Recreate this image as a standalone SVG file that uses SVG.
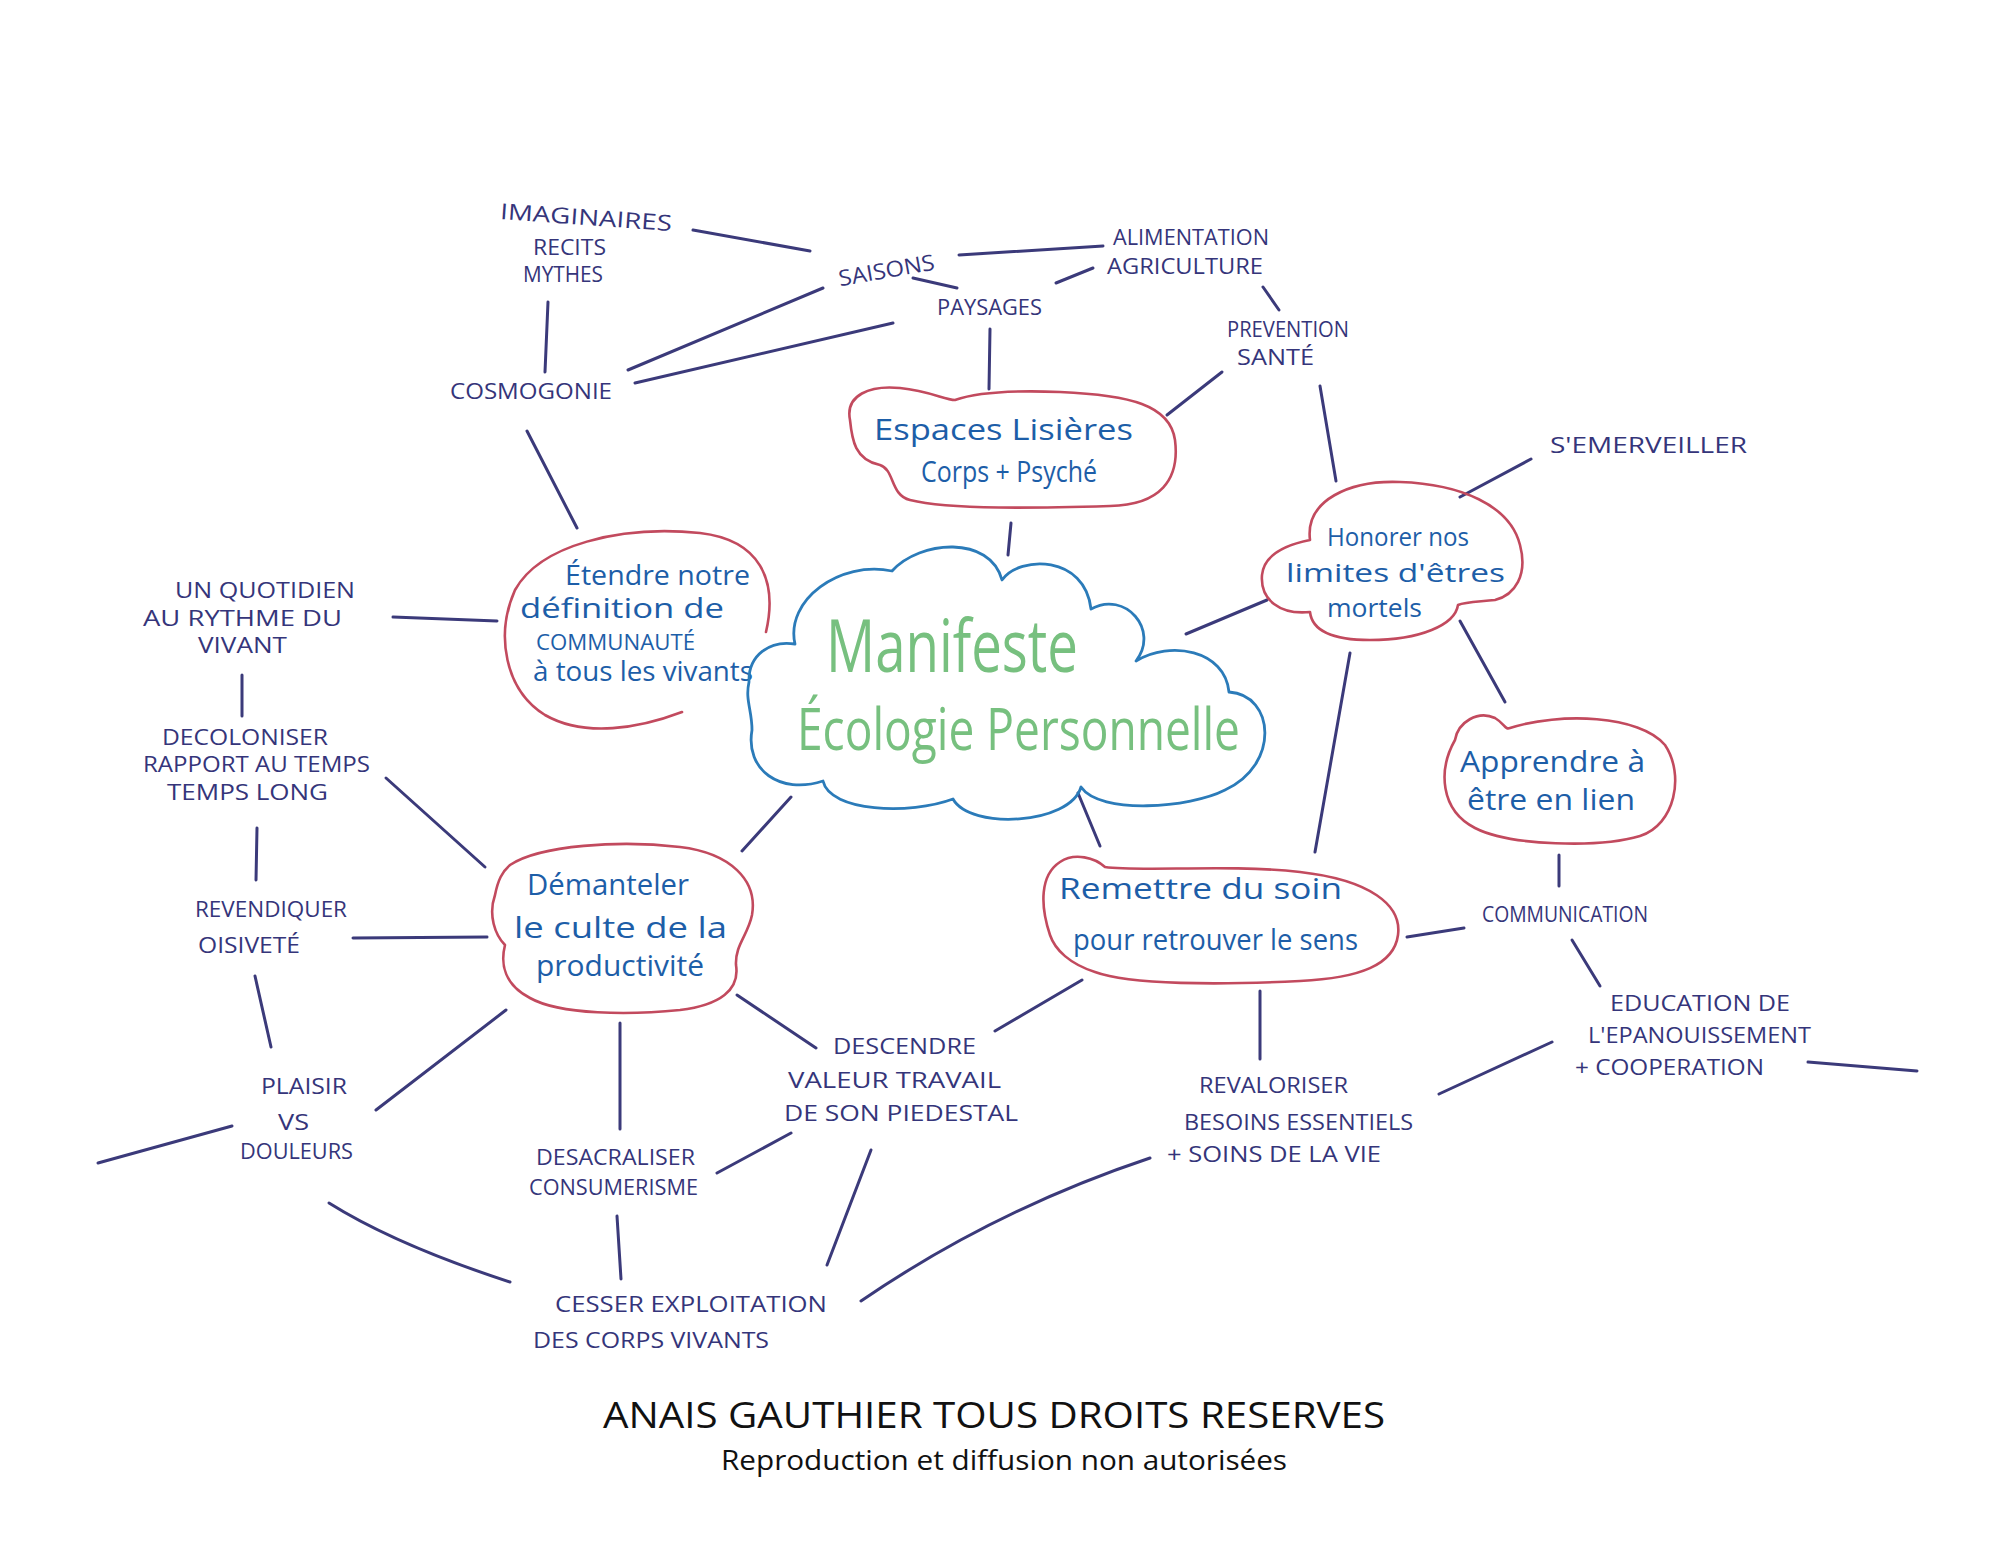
<svg xmlns="http://www.w3.org/2000/svg" width="2000" height="1545" viewBox="0 0 2000 1545">
<style>
.lbl{font-family:"Open Sans","Liberation Sans",sans-serif;font-size:22px;fill:#35357a}
.bt{font-family:"Open Sans","Liberation Sans",sans-serif;font-size:29px;fill:#1d5ea8}
.bub{fill:none;stroke:#c24a5e;stroke-width:2.6;stroke-linejoin:round;stroke-linecap:round}
.cloud{fill:none;stroke:#2b7bb9;stroke-width:2.8;stroke-linejoin:round;stroke-linecap:round}
.ct{font-family:"Open Sans","Liberation Sans",sans-serif;fill:#77c07f}
#connectors line,#connectors path{stroke:#3b3a7a;stroke-width:3;stroke-linecap:round;fill:none}
.foot{font-family:"Open Sans","Liberation Sans",sans-serif;fill:#111}
</style>
<rect width="2000" height="1545" fill="#ffffff"/>
<g id="connectors">
<line x1="693" y1="230" x2="810" y2="251"/>
<line x1="548" y1="302" x2="545" y2="372"/>
<line x1="959" y1="255" x2="1103" y2="246"/>
<line x1="913" y1="278" x2="957" y2="288"/>
<line x1="1056" y1="283" x2="1093" y2="268"/>
<line x1="823" y1="288" x2="628" y2="370"/>
<line x1="893" y1="323" x2="635" y2="383"/>
<line x1="990" y1="329" x2="989" y2="389"/>
<line x1="1263" y1="287" x2="1279" y2="310"/>
<line x1="1222" y1="372" x2="1167" y2="415"/>
<line x1="1320" y1="386" x2="1336" y2="481"/>
<line x1="1531" y1="459" x2="1460" y2="497"/>
<line x1="527" y1="431" x2="577" y2="528"/>
<line x1="1011" y1="523" x2="1008" y2="555"/>
<line x1="1267" y1="600" x2="1186" y2="634"/>
<line x1="1460" y1="621" x2="1505" y2="702"/>
<line x1="1350" y1="653" x2="1315" y2="852"/>
<line x1="393" y1="617" x2="497" y2="621"/>
<line x1="242" y1="675" x2="242" y2="716"/>
<line x1="257" y1="828" x2="256" y2="880"/>
<line x1="386" y1="778" x2="485" y2="867"/>
<line x1="353" y1="938" x2="487" y2="937"/>
<line x1="255" y1="976" x2="271" y2="1047"/>
<line x1="376" y1="1110" x2="506" y2="1010"/>
<line x1="232" y1="1126" x2="98" y2="1163"/>
<line x1="620" y1="1023" x2="620" y2="1129"/>
<line x1="737" y1="995" x2="816" y2="1048"/>
<line x1="791" y1="797" x2="742" y2="851"/>
<line x1="1078" y1="793" x2="1100" y2="846"/>
<line x1="995" y1="1031" x2="1082" y2="980"/>
<line x1="717" y1="1173" x2="791" y2="1133"/>
<line x1="617" y1="1216" x2="621" y2="1279"/>
<line x1="871" y1="1150" x2="827" y2="1265"/>
<path d="M329,1203 Q396,1245 510,1282"/>
<path d="M861,1301 Q994,1210 1150,1158"/>
<line x1="1260" y1="991" x2="1260" y2="1059"/>
<line x1="1407" y1="937" x2="1464" y2="928"/>
<line x1="1559" y1="855" x2="1559" y2="886"/>
<line x1="1572" y1="940" x2="1600" y2="986"/>
<line x1="1439" y1="1094" x2="1552" y2="1042"/>
<line x1="1808" y1="1062" x2="1917" y2="1071"/>
</g>
<g id="n-imaginaires">
<text class="lbl" x="500" y="225" textLength="172" lengthAdjust="spacingAndGlyphs" transform="rotate(4 586 218)">IMAGINAIRES</text>
<text class="lbl" x="533" y="255" textLength="73" lengthAdjust="spacingAndGlyphs">RECITS</text>
<text class="lbl" x="523" y="282" textLength="80" lengthAdjust="spacingAndGlyphs">MYTHES</text>
</g>
<g id="n-saisons"><text class="lbl" x="838" y="278" textLength="97" lengthAdjust="spacingAndGlyphs" transform="rotate(-10 886 270)">SAISONS</text></g>
<g id="n-paysages"><text class="lbl" x="937" y="315" textLength="105" lengthAdjust="spacingAndGlyphs">PAYSAGES</text></g>
<g id="n-alimentation">
<text class="lbl" x="1113" y="245" textLength="156" lengthAdjust="spacingAndGlyphs">ALIMENTATION</text>
<text class="lbl" x="1107" y="274" textLength="156" lengthAdjust="spacingAndGlyphs">AGRICULTURE</text>
</g>
<g id="n-prevention">
<text class="lbl" x="1227" y="337" textLength="122" lengthAdjust="spacingAndGlyphs">PREVENTION</text>
<text class="lbl" x="1237" y="365" textLength="77" lengthAdjust="spacingAndGlyphs">SANTÉ</text>
</g>
<g id="n-cosmogonie"><text class="lbl" x="450" y="399" textLength="162" lengthAdjust="spacingAndGlyphs">COSMOGONIE</text></g>
<g id="n-emerveiller"><text class="lbl" x="1550" y="453" textLength="197" lengthAdjust="spacingAndGlyphs">S'EMERVEILLER</text></g>
<g id="n-quotidien">
<text class="lbl" x="175" y="598" textLength="180" lengthAdjust="spacingAndGlyphs">UN QUOTIDIEN</text>
<text class="lbl" x="143" y="626" textLength="199" lengthAdjust="spacingAndGlyphs">AU RYTHME DU</text>
<text class="lbl" x="198" y="653" textLength="89" lengthAdjust="spacingAndGlyphs">VIVANT</text>
</g>
<g id="n-decoloniser">
<text class="lbl" x="162" y="745" textLength="166" lengthAdjust="spacingAndGlyphs">DECOLONISER</text>
<text class="lbl" x="143" y="772" textLength="227" lengthAdjust="spacingAndGlyphs">RAPPORT AU TEMPS</text>
<text class="lbl" x="167" y="800" textLength="161" lengthAdjust="spacingAndGlyphs">TEMPS LONG</text>
</g>
<g id="n-revendiquer">
<text class="lbl" x="195" y="917" textLength="152" lengthAdjust="spacingAndGlyphs">REVENDIQUER</text>
<text class="lbl" x="198" y="953" textLength="102" lengthAdjust="spacingAndGlyphs">OISIVETÉ</text>
</g>
<g id="n-plaisir">
<text class="lbl" x="261" y="1094" textLength="86" lengthAdjust="spacingAndGlyphs">PLAISIR</text>
<text class="lbl" x="278" y="1130" textLength="31" lengthAdjust="spacingAndGlyphs">VS</text>
<text class="lbl" x="240" y="1159" textLength="113" lengthAdjust="spacingAndGlyphs">DOULEURS</text>
</g>
<g id="n-desacraliser">
<text class="lbl" x="536" y="1165" textLength="159" lengthAdjust="spacingAndGlyphs">DESACRALISER</text>
<text class="lbl" x="529" y="1195" textLength="169" lengthAdjust="spacingAndGlyphs">CONSUMERISME</text>
</g>
<g id="n-descendre">
<text class="lbl" x="833" y="1054" textLength="143" lengthAdjust="spacingAndGlyphs">DESCENDRE</text>
<text class="lbl" x="788" y="1088" textLength="213" lengthAdjust="spacingAndGlyphs">VALEUR TRAVAIL</text>
<text class="lbl" x="784" y="1121" textLength="234" lengthAdjust="spacingAndGlyphs">DE SON PIEDESTAL</text>
</g>
<g id="n-cesser">
<text class="lbl" x="555" y="1312" textLength="272" lengthAdjust="spacingAndGlyphs">CESSER EXPLOITATION</text>
<text class="lbl" x="533" y="1348" textLength="236" lengthAdjust="spacingAndGlyphs">DES CORPS VIVANTS</text>
</g>
<g id="n-revaloriser">
<text class="lbl" x="1199" y="1093" textLength="149" lengthAdjust="spacingAndGlyphs">REVALORISER</text>
<text class="lbl" x="1184" y="1130" textLength="229" lengthAdjust="spacingAndGlyphs">BESOINS ESSENTIELS</text>
<text class="lbl" x="1167" y="1162" textLength="214" lengthAdjust="spacingAndGlyphs">+ SOINS DE LA VIE</text>
</g>
<g id="n-communication"><text class="lbl" x="1482" y="922" textLength="166" lengthAdjust="spacingAndGlyphs">COMMUNICATION</text></g>
<g id="n-education">
<text class="lbl" x="1610" y="1011" textLength="180" lengthAdjust="spacingAndGlyphs">EDUCATION DE</text>
<text class="lbl" x="1588" y="1043" textLength="223" lengthAdjust="spacingAndGlyphs">L'EPANOUISSEMENT</text>
<text class="lbl" x="1575" y="1075" textLength="189" lengthAdjust="spacingAndGlyphs">+ COOPERATION</text>
</g>
<g id="n-espaces">
<path class="bub" d="M850,420 C845,395 870,385 900,388 C930,391 945,400 955,400 C975,393 1010,390 1060,392 C1130,395 1170,405 1175,440 C1180,480 1160,505 1110,506 C1040,508 950,510 910,500 C890,495 895,470 880,465 C855,460 852,440 850,420 Z"/>
<text class="bt" x="874" y="440" textLength="259" lengthAdjust="spacingAndGlyphs">Espaces Lisières</text>
<text class="bt" x="921" y="482" textLength="176" lengthAdjust="spacingAndGlyphs">Corps + Psyché</text>
</g>
<g id="n-etendre">
<path class="bub" d="M766,632 C778,580 760,540 700,533 C620,525 540,545 515,590 C495,635 505,690 545,715 C585,738 640,728 682,712"/>
<text class="bt" x="565" y="585" textLength="185" lengthAdjust="spacingAndGlyphs" style="font-size:27px">Étendre notre</text>
<text class="bt" x="520" y="618" textLength="204" lengthAdjust="spacingAndGlyphs" style="font-size:27px">définition de</text>
<text class="bt" x="536" y="650" textLength="159" lengthAdjust="spacingAndGlyphs" style="font-size:22px">COMMUNAUTÉ</text>
<text class="bt" x="533" y="681" textLength="220" lengthAdjust="spacingAndGlyphs" style="font-size:27px">à tous les vivants</text>
</g>
<g id="n-honorer">
<path class="bub" d="M1310,540 C1305,500 1350,480 1400,482 C1460,484 1510,505 1520,545 C1528,575 1515,595 1495,600 C1475,602 1465,602 1458,605 C1455,625 1420,640 1370,640 C1330,640 1312,630 1310,612 C1280,615 1260,600 1262,575 C1264,555 1285,545 1310,540 Z"/>
<text class="bt" x="1327" y="546" textLength="142" lengthAdjust="spacingAndGlyphs" style="font-size:26px">Honorer nos</text>
<text class="bt" x="1286" y="582" textLength="219" lengthAdjust="spacingAndGlyphs" style="font-size:26px">limites d'êtres</text>
<text class="bt" x="1327" y="617" textLength="95" lengthAdjust="spacingAndGlyphs" style="font-size:26px">mortels</text>
</g>
<g id="n-apprendre">
<path class="bub" d="M1455,740 C1458,722 1478,710 1495,718 C1505,724 1505,730 1510,728 C1560,712 1640,715 1665,745 C1685,775 1675,825 1640,836 C1600,848 1510,846 1475,828 C1440,810 1438,770 1455,740 Z"/>
<text class="bt" x="1460" y="772" textLength="185" lengthAdjust="spacingAndGlyphs">Apprendre à</text>
<text class="bt" x="1467" y="810" textLength="168" lengthAdjust="spacingAndGlyphs">être en lien</text>
</g>
<g id="n-demanteler">
<path class="bub" d="M510,865 C540,845 620,840 680,847 C730,853 758,880 752,915 C748,935 735,945 736,965 C740,990 720,1005 680,1010 C630,1015 560,1015 530,998 C505,985 500,965 505,945 C495,935 488,915 495,895 C498,880 502,872 510,865 Z"/>
<text class="bt" x="527" y="895" textLength="162" lengthAdjust="spacingAndGlyphs">Démanteler</text>
<text class="bt" x="514" y="938" textLength="213" lengthAdjust="spacingAndGlyphs">le culte de la</text>
<text class="bt" x="536" y="976" textLength="168" lengthAdjust="spacingAndGlyphs">productivité</text>
</g>
<g id="n-remettre">
<path class="bub" d="M1050,935 C1040,905 1040,875 1060,862 C1075,852 1095,858 1105,867 C1140,872 1230,864 1300,872 C1370,880 1402,905 1398,935 C1394,965 1360,978 1300,981 C1220,985 1130,985 1095,972 C1070,964 1055,950 1050,935 Z"/>
<text class="bt" x="1059" y="899" textLength="283" lengthAdjust="spacingAndGlyphs">Remettre du soin</text>
<text class="bt" x="1073" y="950" textLength="285" lengthAdjust="spacingAndGlyphs">pour retrouver le sens</text>
</g>
<g id="n-manifeste">
<path class="cloud" d="M749,682 C748,655 770,640 795,644 C785,600 840,560 892,571 C920,540 990,535 1002,580 C1020,555 1085,555 1091,609 C1125,590 1160,630 1136,661 C1170,640 1225,650 1229,692 C1275,695 1280,765 1225,790 C1190,808 1100,815 1081,787 C1070,825 970,830 953,799 C910,815 830,812 823,781 C780,795 745,770 752,730 C752,710 745,700 749,682 Z"/>
<text class="ct" x="826" y="672" textLength="252" lengthAdjust="spacingAndGlyphs" style="font-size:74px">Manifeste</text>
<text class="ct" x="797" y="750" textLength="443" lengthAdjust="spacingAndGlyphs" style="font-size:58px">Écologie Personnelle</text>
</g>
<g id="footer">
<text class="foot" x="603" y="1428" textLength="782" lengthAdjust="spacingAndGlyphs" style="font-size:36px">ANAIS GAUTHIER TOUS DROITS RESERVES</text>
<text class="foot" x="721" y="1470" textLength="566" lengthAdjust="spacingAndGlyphs" style="font-size:27px">Reproduction et diffusion non autorisées</text>
</g>
</svg>
